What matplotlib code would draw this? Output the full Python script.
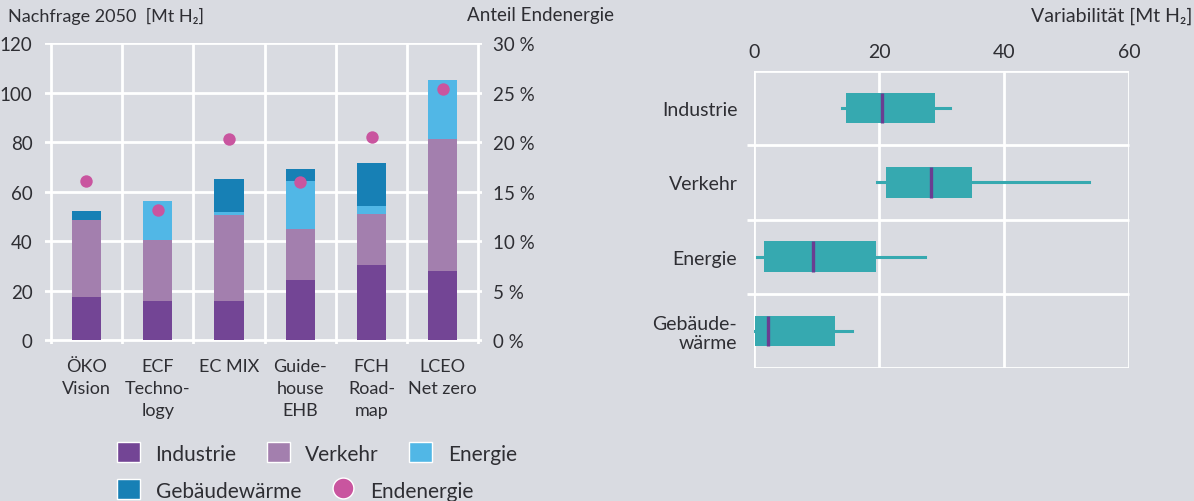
import matplotlib
matplotlib.use("Agg")
import matplotlib.pyplot as plt
import numpy as np
from matplotlib.patches import Patch
from matplotlib.lines import Line2D

# Daten – Nachfrage 2050 [Mt H2] je Szenario
szenarien = ["ÖKO\nVision", "ECF\nTechno-\nlogy", "EC MIX", "Guide-\nhouse\nEHB", "FCH\nRoad-\nmap", "LCEO\nNet zero"]
industrie = [17.5, 15.8, 15.8, 24.2, 30.3, 27.9]
verkehr = [31.0, 24.6, 34.8, 20.6, 20.6, 53.3]
energie = [0.0, 15.8, 1.1, 19.4, 3.2, 23.8]
gebaeude = [3.5, 0.0, 13.3, 4.9, 17.4, 0.0]
endenergie = [16.1, 13.1, 20.3, 16.0, 20.5, 25.4]  # Anteil in %

# Variabilität [Mt H2] je Sektor: Whisker unten, Q1, Median, Q3, Whisker oben
sektoren = ["Industrie", "Verkehr", "Energie", "Gebäude-\nwärme"]
whisker_lo = [14.0, 19.6, 0.4, 0.0]
q1 = [14.7, 21.1, 1.6, 0.2]
median = [20.4, 28.3, 9.4, 2.2]
q3 = [28.9, 34.8, 19.5, 13.0]
whisker_hi = [31.4, 53.6, 27.4, 15.6]

FONT = ["Lato", "DejaVu Sans"]
plt.rcParams["font.family"] = FONT
TXT = "#2e2e33"
BG = "#d9dbe1"
c_ind, c_ver, c_ene, c_geb = "#734595", "#a37fae", "#51b7e6", "#1780b5"
c_end = "#c9559f"

W, H = 1194, 502
fig = plt.figure(figsize=(W / 100, H / 100), dpi=100, facecolor=BG)

def box(l, t, r, b):
    return [l / W, 1 - b / H, (r - l) / W, (b - t) / H]

# --- linker Teil: gestapelte Balken ---
ax = fig.add_axes(box(45, 44, 482, 345))
ax.set_facecolor(BG)
for s in ax.spines.values():
    s.set_visible(False)
ax.set_xlim(-0.58, 5.55)
ax.set_ylim(-1.6, 120)
for v in range(0, 121, 20):
    ax.axhline(v, color="white", lw=2, zorder=0)
for xv in np.arange(-0.5, 6, 1):
    ax.axvline(xv, color="white", lw=2, zorder=0)

x = np.arange(len(szenarien))
bw = 0.41
b0 = np.zeros(len(x))
for vals, col in [(industrie, c_ind), (verkehr, c_ver), (energie, c_ene), (gebaeude, c_geb)]:
    ax.bar(x, vals, bw, bottom=b0, color=col, zorder=2)
    b0 = b0 + np.array(vals)

ax.set_xticks(x)
ax.set_xticklabels(szenarien, fontsize=13, color=TXT, linespacing=1.45)
ax.set_yticks(range(0, 121, 20))
ax.set_yticklabels([str(v) for v in range(0, 121, 20)], fontsize=13.5, color=TXT)
ax.tick_params(length=0, pad=9)
ax.tick_params(axis="x", pad=10)

ax2 = ax.twinx()
ax2.set_ylim(-1.6 / 4, 30)
for s in ax2.spines.values():
    s.set_visible(False)
ax2.set_yticks(range(0, 31, 5))
ax2.set_yticklabels([f"{v} %" for v in range(0, 31, 5)], fontsize=13.5, color=TXT)
ax2.tick_params(length=0, pad=8)
ax2.scatter(x, endenergie, s=80, color=c_end, zorder=3, linewidths=0)

fig.text(8 / W, 1 - 16 / H, "Nachfrage 2050  [Mt H₂]", fontsize=13, color=TXT, va="center", ha="left")
fig.text(614 / W, 1 - 16 / H, "Anteil Endenergie", fontsize=13.5, color=TXT, va="center", ha="right")

# --- rechter Teil: Boxplots ---
bx = fig.add_axes(box(754, 72, 1129, 369))
bx.set_facecolor(BG)
for s in bx.spines.values():
    s.set_visible(False)
bx.set_xlim(0, 60)
bx.set_ylim(3.5, -0.5)
for xv in [0, 20, 40, 60]:
    bx.axvline(xv, color="white", lw=2, zorder=0)
bx.hlines([-0.5, 3.5], 0, 60, color="white", lw=2, zorder=0)
bx.hlines([0.5, 1.5, 2.5], -1.15, 60, color="white", lw=2, zorder=0, clip_on=False)

stats = [dict(whislo=a, q1=b, med=c, q3=d, whishi=e, label=n)
         for a, b, c, d, e, n in zip(whisker_lo, q1, median, q3, whisker_hi, sektoren)]
bx.bxp(stats, positions=range(len(sektoren)), widths=0.41, orientation="horizontal",
       showfliers=False, showcaps=False, patch_artist=True,
       boxprops=dict(facecolor="#36a9b0", edgecolor="none"),
       whiskerprops=dict(color="#36a9b0", lw=2.2),
       medianprops=dict(color="#6a3d91", lw=2.4), zorder=2)
bx.set_yticks(range(len(sektoren)))
bx.set_yticklabels(sektoren, fontsize=14, color=TXT, ha="right", multialignment="right", linespacing=1.15)
bx.set_xticks([0, 20, 40, 60])
bx.set_xticklabels(["0", "20", "40", "60"], fontsize=14, color=TXT)
bx.xaxis.tick_top()
bx.tick_params(length=0)
bx.tick_params(axis="x", pad=8)
bx.tick_params(axis="y", pad=12)

fig.text(1192 / W, 1 - 16 / H, "Variabilität [Mt H₂]", fontsize=14, color=TXT, va="center", ha="right")

# --- Legende ---
def sq(c):
    return Patch(facecolor=c, edgecolor="white", linewidth=1)

leg_kw = dict(frameon=False, fontsize=15, handlelength=1.1, handleheight=1.1,
              handletextpad=0.75, columnspacing=1.45, borderpad=0, borderaxespad=0,
              labelcolor=TXT)
fig.legend([sq(c_ind), sq(c_ver), sq(c_ene)], ["Industrie", "Verkehr", "Energie"],
           ncol=3, loc="center left", bbox_to_anchor=(117 / W, 1 - 454 / H), **leg_kw)
fig.legend([sq(c_geb), Line2D([], [], ls="none", marker="o", ms=15, mfc=c_end, mec="white", mew=1)],
           ["Gebäudewärme", "Endenergie"],
           ncol=2, loc="center left", bbox_to_anchor=(117 / W, 1 - 491 / H), **leg_kw)

fig.savefig("out.png", dpi=100, facecolor=BG)
